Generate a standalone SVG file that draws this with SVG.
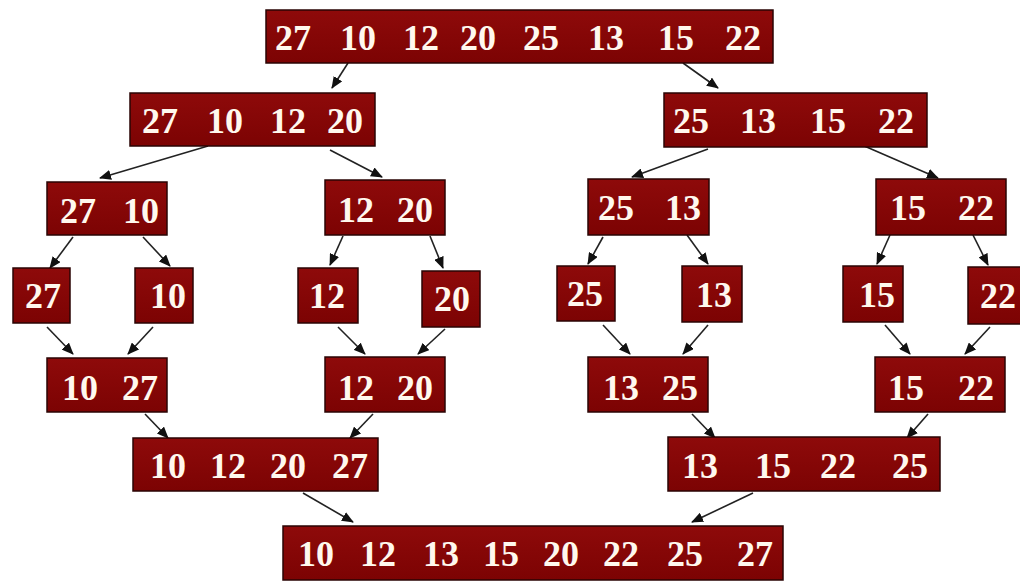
<svg xmlns="http://www.w3.org/2000/svg" width="1020" height="581" viewBox="0 0 1020 581">
<defs>
<linearGradient id="g" x1="0" y1="0" x2="0" y2="1">
<stop offset="0" stop-color="#8e0a0a"/>
<stop offset="1" stop-color="#7c0303"/>
</linearGradient>
<marker id="ah" markerUnits="userSpaceOnUse" markerWidth="12" markerHeight="10" refX="11" refY="5" orient="auto">
<path d="M0,0 L12,5 L0,10 z" fill="#111"/>
</marker>
</defs>
<style>
rect{fill:url(#g);stroke:#2a0505;stroke-width:1.5}
text{font-family:"Liberation Serif","Times New Roman",serif;font-weight:bold;font-size:36px;fill:#fff8ee}
.c line{stroke:#222;stroke-width:1.6;marker-end:url(#ah)}
</style>
<rect x="0" y="0" width="1020" height="581" style="fill:#ffffff;stroke:none"/>
<g class="c" id="connectors">
<line x1="348" y1="63" x2="332" y2="88"/>
<line x1="683" y1="63" x2="718" y2="88"/>
<line x1="208" y1="146" x2="100" y2="178"/>
<line x1="330" y1="150" x2="382" y2="177"/>
<line x1="708" y1="149" x2="632" y2="177"/>
<line x1="862" y1="145" x2="938" y2="178"/>
<line x1="73" y1="237" x2="50" y2="268"/>
<line x1="143" y1="237" x2="170" y2="266"/>
<line x1="343" y1="236" x2="330" y2="265"/>
<line x1="430" y1="236" x2="443" y2="268"/>
<line x1="603" y1="237" x2="588" y2="264"/>
<line x1="687" y1="235" x2="708" y2="264"/>
<line x1="890" y1="235" x2="877" y2="264"/>
<line x1="973" y1="235" x2="988" y2="265"/>
<line x1="47" y1="327" x2="73" y2="354"/>
<line x1="153" y1="327" x2="128" y2="354"/>
<line x1="338" y1="327" x2="365" y2="354"/>
<line x1="445" y1="329" x2="418" y2="354"/>
<line x1="603" y1="325" x2="630" y2="354"/>
<line x1="708" y1="325" x2="683" y2="354"/>
<line x1="885" y1="325" x2="910" y2="354"/>
<line x1="990" y1="327" x2="965" y2="354"/>
<line x1="145" y1="414" x2="168" y2="438"/>
<line x1="373" y1="414" x2="350" y2="438"/>
<line x1="692" y1="414" x2="715" y2="438"/>
<line x1="928" y1="414" x2="907" y2="438"/>
<line x1="303" y1="493" x2="353" y2="522"/>
<line x1="753" y1="493" x2="692" y2="522"/>
</g>
<g id="n0"><rect x="266" y="10" width="507" height="53"/><text y="50"><tspan x="275">27</tspan><tspan x="340">10</tspan><tspan x="403">12</tspan><tspan x="460">20</tspan><tspan x="523">25</tspan><tspan x="588">13</tspan><tspan x="658">15</tspan><tspan x="725">22</tspan></text></g>
<g id="n1"><rect x="130" y="93" width="245" height="53"/><text y="133"><tspan x="142">27</tspan><tspan x="207">10</tspan><tspan x="270">12</tspan><tspan x="327">20</tspan></text></g>
<g id="n2"><rect x="664" y="93" width="263" height="54"/><text y="133"><tspan x="673">25</tspan><tspan x="740">13</tspan><tspan x="810">15</tspan><tspan x="878">22</tspan></text></g>
<g id="n3"><rect x="47" y="182" width="120" height="53"/><text y="223"><tspan x="60">27</tspan><tspan x="123">10</tspan></text></g>
<g id="n4"><rect x="325" y="180" width="120" height="55"/><text y="222"><tspan x="338">12</tspan><tspan x="397">20</tspan></text></g>
<g id="n5"><rect x="588" y="179" width="121" height="56"/><text y="220"><tspan x="598">25</tspan><tspan x="665">13</tspan></text></g>
<g id="n6"><rect x="876" y="179" width="130" height="56"/><text y="220"><tspan x="890">15</tspan><tspan x="958">22</tspan></text></g>
<g id="n7"><rect x="13" y="268" width="57" height="55"/><text x="25" y="308">27</text></g>
<g id="n8"><rect x="135" y="268" width="58" height="55"/><text x="150" y="308">10</text></g>
<g id="n9"><rect x="298" y="268" width="60" height="55"/><text x="309" y="308">12</text></g>
<g id="n10"><rect x="422" y="271" width="58" height="56"/><text x="434" y="311">20</text></g>
<g id="n11"><rect x="557" y="266" width="58" height="55"/><text x="567" y="306">25</text></g>
<g id="n12"><rect x="682" y="266" width="60" height="56"/><text x="696" y="307">13</text></g>
<g id="n13"><rect x="843" y="266" width="60" height="56"/><text x="859" y="307">15</text></g>
<g id="n14"><rect x="968" y="267" width="56" height="57"/><text x="980" y="308">22</text></g>
<g id="n15"><rect x="47" y="358" width="120" height="54"/><text y="400"><tspan x="62">10</tspan><tspan x="122">27</tspan></text></g>
<g id="n16"><rect x="325" y="357" width="120" height="55"/><text y="400"><tspan x="338">12</tspan><tspan x="397">20</tspan></text></g>
<g id="n17"><rect x="588" y="357" width="120" height="55"/><text y="400"><tspan x="603">13</tspan><tspan x="662">25</tspan></text></g>
<g id="n18"><rect x="875" y="357" width="130" height="55"/><text y="400"><tspan x="888">15</tspan><tspan x="958">22</tspan></text></g>
<g id="n19"><rect x="133" y="438" width="245" height="53"/><text y="478"><tspan x="150">10</tspan><tspan x="210">12</tspan><tspan x="270">20</tspan><tspan x="332">27</tspan></text></g>
<g id="n20"><rect x="668" y="437" width="272" height="54"/><text y="478"><tspan x="682">13</tspan><tspan x="755">15</tspan><tspan x="820">22</tspan><tspan x="892">25</tspan></text></g>
<g id="n21"><rect x="283" y="526" width="500" height="54"/><text y="566"><tspan x="298">10</tspan><tspan x="360">12</tspan><tspan x="423">13</tspan><tspan x="483">15</tspan><tspan x="543">20</tspan><tspan x="603">22</tspan><tspan x="667">25</tspan><tspan x="737">27</tspan></text></g>
</svg>
